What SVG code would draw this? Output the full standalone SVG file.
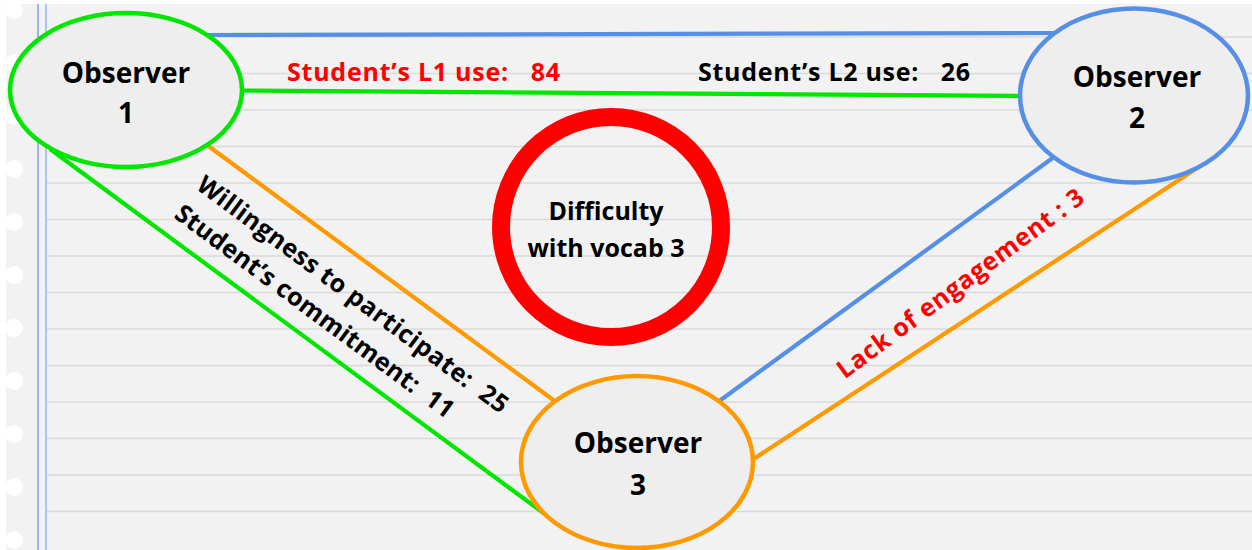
<svg xmlns="http://www.w3.org/2000/svg" width="1252" height="550" viewBox="0 0 1252 550">
<defs>
<style>
.rule{stroke:#dadada;stroke-width:1.6}
.hole{fill:#ffffff}
.node{fill:#eeeeee;stroke-width:4.5}
.lbl{font-family:"Open Sans","Liberation Sans",sans-serif;font-weight:700;text-anchor:middle;white-space:pre}
.ntxt{font-size:28px;fill:#000}
.etxt{font-size:25px}
.conn{fill:none;stroke-width:4.2;stroke-linecap:butt}
</style>
</defs>
<g id="paper">
<rect x="0" y="0" width="1252" height="550" fill="#ffffff"/>
<rect x="6" y="4" width="1246" height="546" fill="#f2f2f2"/>
<g class="rules">
<line class="rule" x1="46" y1="37" x2="1252" y2="37"/>
<line class="rule" x1="46" y1="73.5" x2="1252" y2="73.5"/>
<line class="rule" x1="46" y1="110" x2="1252" y2="110"/>
<line class="rule" x1="46" y1="146.5" x2="1252" y2="146.5"/>
<line class="rule" x1="46" y1="183" x2="1252" y2="183"/>
<line class="rule" x1="46" y1="219.5" x2="1252" y2="219.5"/>
<line class="rule" x1="46" y1="256" x2="1252" y2="256"/>
<line class="rule" x1="46" y1="292.5" x2="1252" y2="292.5"/>
<line class="rule" x1="46" y1="329" x2="1252" y2="329"/>
<line class="rule" x1="46" y1="365.5" x2="1252" y2="365.5"/>
<line class="rule" x1="46" y1="402" x2="1252" y2="402"/>
<line class="rule" x1="46" y1="438.5" x2="1252" y2="438.5"/>
<line class="rule" x1="46" y1="475" x2="1252" y2="475"/>
<line class="rule" x1="46" y1="511.5" x2="1252" y2="511.5"/>
</g>
<line x1="38" y1="4" x2="38" y2="550" stroke="#7f9fe6" stroke-width="1.5"/>
<line x1="46" y1="4" x2="46" y2="550" stroke="#aac4f4" stroke-width="2"/>
<g>
<circle class="hole" cx="14" cy="10" r="9"/>
<circle class="hole" cx="14" cy="63" r="9"/>
<circle class="hole" cx="14" cy="116" r="9"/>
<circle class="hole" cx="14" cy="169" r="9"/>
<circle class="hole" cx="14" cy="222" r="9"/>
<circle class="hole" cx="14" cy="275" r="9"/>
<circle class="hole" cx="14" cy="328" r="9"/>
<circle class="hole" cx="14" cy="381" r="9"/>
<circle class="hole" cx="14" cy="434" r="9"/>
<circle class="hole" cx="14" cy="487" r="9"/>
<circle class="hole" cx="14" cy="540" r="9"/>
</g>
</g>
<g id="connectors">
<line class="conn" stroke="#5590e6" x1="207" y1="35" x2="1057" y2="33"/>
<line class="conn" stroke="#00e600" x1="240" y1="90.5" x2="1022" y2="96"/>
<line class="conn" stroke="#ff9900" x1="207" y1="145" x2="556" y2="402"/>
<line class="conn" stroke="#00e600" x1="50" y1="149" x2="557" y2="523"/>
<line class="conn" stroke="#5590e6" x1="718" y1="402" x2="1054" y2="157"/>
<line class="conn" stroke="#ff9900" x1="752" y1="460" x2="1217" y2="155"/>
<text class="lbl etxt" fill="#ff0000" x="423.5" y="81" textLength="273" lengthAdjust="spacing" xml:space="preserve">Student’s L1 use:   84</text>
<text class="lbl etxt" fill="#000000" x="834" y="81" textLength="272" lengthAdjust="spacing" xml:space="preserve">Student’s L2 use:   26</text>
<text class="lbl etxt" fill="#000000" transform="translate(353 294) rotate(36.5)" x="0" y="9" textLength="380" lengthAdjust="spacing" xml:space="preserve">Willingness to participate:  25</text>
<text class="lbl etxt" fill="#000000" transform="translate(315 311) rotate(36.5)" x="0" y="9" textLength="340" lengthAdjust="spacing" xml:space="preserve">Student’s commitment:  11</text>
<text class="lbl etxt" fill="#ff0000" transform="translate(960 283) rotate(-36.5)" x="0" y="9" textLength="300" lengthAdjust="spacing">Lack of engagement : 3</text>
</g>
<g id="observer1">
<ellipse class="node" stroke="#00e600" cx="126" cy="90" rx="116" ry="77"/>
<text class="lbl ntxt" x="126" y="83">Observer</text>
<text class="lbl ntxt" x="126" y="123">1</text>
</g>
<g id="observer2">
<ellipse class="node" stroke="#5590e6" cx="1134" cy="95.5" rx="114" ry="87"/>
<text class="lbl ntxt" x="1137" y="87">Observer</text>
<text class="lbl ntxt" x="1137" y="128">2</text>
</g>
<g id="observer3">
<ellipse class="node" stroke="#ff9900" cx="637" cy="462" rx="116" ry="86"/>
<text class="lbl ntxt" x="638" y="453">Observer</text>
<text class="lbl ntxt" x="638" y="495">3</text>
</g>
<g id="difficulty">
<circle cx="611" cy="227" r="110" fill="none" stroke="#ff0000" stroke-width="18"/>
<text class="lbl" style="font-size:25px" fill="#000000" x="606" y="220">Difficulty</text>
<text class="lbl" style="font-size:25px" fill="#000000" x="606" y="257">with vocab 3</text>
</g>
</svg>
